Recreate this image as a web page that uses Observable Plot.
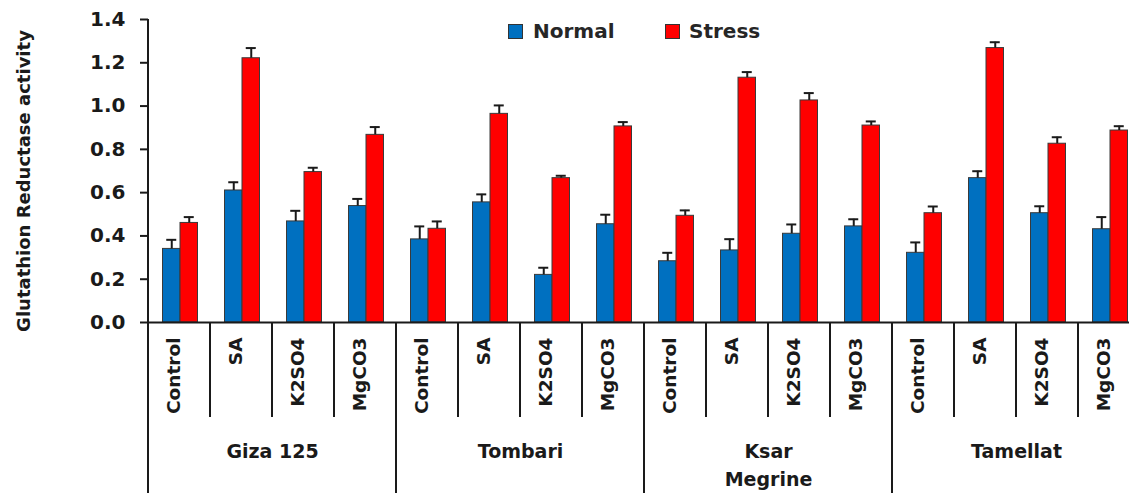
<!DOCTYPE html>
<html><head><meta charset="utf-8">
<script src="https://cdn.jsdelivr.net/npm/d3@7"></script>
<script src="https://cdn.jsdelivr.net/npm/@observablehq/plot@0.6"></script>
<style>
html,body{margin:0;padding:0;background:#fff;overflow:hidden;}
#wrap{position:relative;width:1129px;height:493px;overflow:hidden;}
#chart{width:1140px;}
#chart svg{max-width:none !important;display:block;}
.legend{position:absolute;top:20px;height:22px;display:flex;align-items:center;gap:10px;font:bold 20px "DejaVu Sans";color:#262626;}
.sw{width:15px;height:15px;box-sizing:border-box;border:1px solid #333;}
</style></head><body>
<div id="wrap"><div id="chart"></div>
<div class="legend" style="left:508px"><span class="sw" style="background:#0070C0"></span><span>Normal</span></div>
<div class="legend" style="left:665px;gap:9px"><span class="sw" style="background:#FF0000"></span><span>Stress</span></div>
</div>
<script>
const cultivars = ["Giza 125", "Tombari", "Ksar Megrine", "Tamellat"];
const treatments = ["Control", "SA", "K2SO4", "MgCO3"];
const normal    = [0.340, 0.610, 0.467, 0.538,  0.384, 0.555, 0.220, 0.454,  0.283, 0.333, 0.410, 0.444,  0.322, 0.667, 0.505, 0.431];
const normalErr = [0.042, 0.038, 0.049, 0.033,  0.060, 0.037, 0.033, 0.044,  0.039, 0.052, 0.043, 0.033,  0.048, 0.032, 0.032, 0.056];
const stress    = [0.460, 1.221, 0.695, 0.867,  0.433, 0.964, 0.667, 0.906,  0.493, 1.131, 1.026, 0.910,  0.505, 1.268, 0.826, 0.887];
const stressErr = [0.027, 0.047, 0.020, 0.036,  0.034, 0.039, 0.011, 0.020,  0.025, 0.026, 0.034, 0.019,  0.031, 0.027, 0.030, 0.020];
const yTicks = [0, 0.2, 0.4, 0.6, 0.8, 1.0, 1.2, 1.4];
const yAxisTitle = "Glutathion Reductase activity";
const colors = {Normal: "#0070C0", Stress: "#FF0000"};

const rows = [];
cultivars.forEach((c, ci) => treatments.forEach((t, ti) => {
  const i = ci * treatments.length + ti;
  rows.push({key: c + "|" + t, cultivar: c, treatment: t, normal: normal[i], normalErr: normalErr[i], stress: stress[i], stressErr: stressErr[i]});
}));
const keys = rows.map(d => d.key);
const groupRows = cultivars.map(c => ({label: c, key: c + "|" + treatments[1]}));

// layout (pixels)
const W = 1140, H = 493, ML = 148, MT = 19, MB = 171;
const step = (W - ML) / keys.length; // 62
const barW = 17.5, leftOff = 14.5;
const capW = 10;
const cN = leftOff + barW / 2, cS = leftOff + barW * 1.5;

const ink = "#1a1a1a";
const plot = Plot.plot({
  width: W, height: H,
  marginLeft: ML, marginRight: 0, marginTop: MT, marginBottom: MB,
  style: {fontFamily: "DejaVu Sans", fontSize: "20px", fontWeight: "bold", color: ink, background: "#fff"},
  x: {type: "band", domain: keys, padding: 0, axis: null},
  y: {domain: [0, 1.4], axis: null},
  marks: [
    Plot.axisY({ticks: yTicks, tickSize: 8, tickPadding: 15, strokeWidth: 2, tickFormat: d3.format(".1f"), label: null, fontSize: 20}),
    Plot.text([yAxisTitle], {frameAnchor: "left", textAnchor: "middle", dx: -124, dy: 10, rotate: -90, fontSize: 18}),
    Plot.barY(rows, {x: "key", y: "normal", fill: colors.Normal, stroke: "#3a3a3a", strokeWidth: 1,
      insetLeft: leftOff, insetRight: step - leftOff - barW}),
    Plot.barY(rows, {x: "key", y: "stress", fill: colors.Stress, stroke: "#3a3a3a", strokeWidth: 1,
      insetLeft: leftOff + barW, insetRight: step - leftOff - 2 * barW}),
    Plot.ruleX(rows, {x: "key", y1: "normal", y2: d => d.normal + d.normalErr, dx: cN - step / 2, strokeWidth: 2, stroke: ink}),
    Plot.ruleX(rows, {x: "key", y1: "stress", y2: d => d.stress + d.stressErr, dx: cS - step / 2, strokeWidth: 2, stroke: ink}),
    Plot.tickY(rows, {x: "key", y: d => d.normal + d.normalErr, insetLeft: cN - capW / 2, insetRight: step - cN - capW / 2, strokeWidth: 2, stroke: ink}),
    Plot.tickY(rows, {x: "key", y: d => d.stress + d.stressErr, insetLeft: cS - capW / 2, insetRight: step - cS - capW / 2, strokeWidth: 2, stroke: ink}),
    Plot.ruleY([0], {strokeWidth: 2, stroke: ink}),
    Plot.text(rows, {x: "key", text: "treatment", frameAnchor: "bottom", dy: 15, rotate: -90, textAnchor: "end", fontSize: 18.5}),
    Plot.text(groupRows, {x: "key", text: "label", frameAnchor: "bottom", dx: step / 2, dy: 115, lineAnchor: "top", lineWidth: 5, lineHeight: 1.5, fontSize: 19})
  ]
});
document.getElementById("chart").appendChild(plot);

// hierarchical axis separators, positioned with the plot's own scales
const sx = plot.scale("x"), sy = plot.scale("y");
const xb = d3.scaleBand().domain(sx.domain).range(sx.range).padding(0);
const yl = d3.scaleLinear().domain(sy.domain).range(sy.range);
const y0 = yl(0), yTop = yl(yTicks[yTicks.length - 1]);
const g = d3.select(plot).append("g").attr("stroke", ink).attr("stroke-width", 2);
keys.forEach((k, i) => {
  const x = xb(k);
  const isGroup = i % treatments.length === 0;
  g.append("line").attr("x1", x).attr("x2", x)
    .attr("y1", i === 0 ? yTop : y0)
    .attr("y2", isGroup ? H : y0 + 95);
});
g.append("line").attr("x1", xb.range()[1]).attr("x2", xb.range()[1]).attr("y1", y0).attr("y2", H);
</script>
</body></html>
